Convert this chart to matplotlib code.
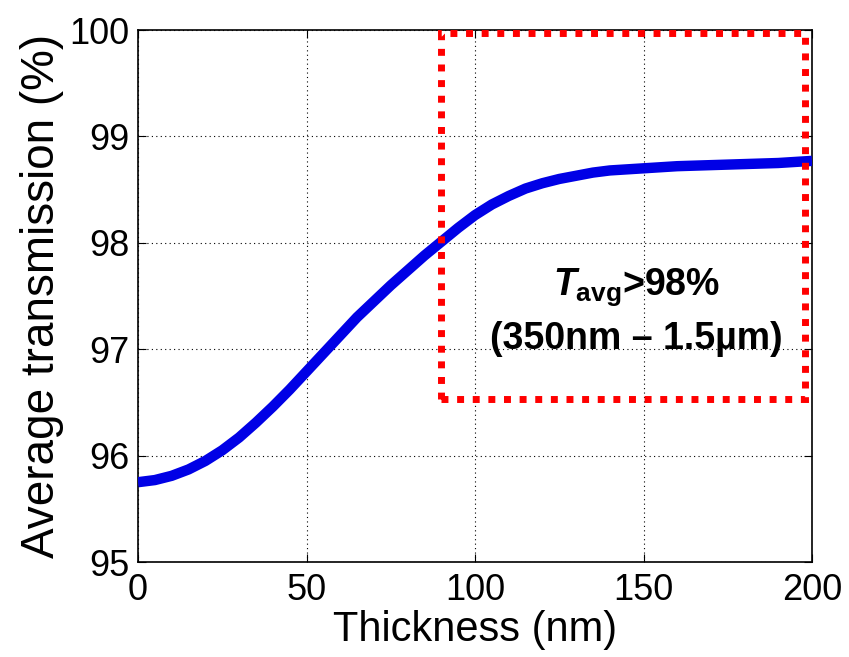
import numpy as np
import matplotlib.pyplot as plt
from matplotlib.patches import Rectangle

thickness = [0, 5, 10, 15, 20, 25, 30, 35, 40, 45, 50, 55, 60, 65, 70, 75, 80, 85, 90, 95,
             100, 105, 110, 115, 120, 125, 130, 135, 140, 145, 150, 160, 170, 180, 190, 200]
transmission = [95.75, 95.77, 95.81, 95.87, 95.95, 96.05, 96.17, 96.31, 96.46, 96.62,
                96.79, 96.96, 97.13, 97.30, 97.45, 97.60, 97.74, 97.88, 98.01, 98.14,
                98.26, 98.36, 98.44, 98.51, 98.56, 98.60, 98.63, 98.66, 98.68, 98.69,
                98.70, 98.72, 98.73, 98.74, 98.75, 98.77]
box_x = [90, 198]
box_y = [96.53, 99.97]

plt.rcParams['font.family'] = ['Liberation Sans', 'DejaVu Sans']
plt.rcParams['mathtext.fontset'] = 'custom'
plt.rcParams['mathtext.it'] = 'Liberation Sans:italic:bold'
plt.rcParams['mathtext.bf'] = 'Liberation Sans:bold'
plt.rcParams['mathtext.rm'] = 'Liberation Sans:bold'

fig = plt.figure(figsize=(8.49, 6.57), dpi=100)
ax = fig.add_axes([138 / 849, 1 - 562 / 657, 674 / 849, 532 / 657])

ax.plot(thickness, transmission, color='#0000e6', lw=7.5, solid_capstyle='butt',
        solid_joinstyle='round', zorder=3)

rect = Rectangle((box_x[0], box_y[0]), box_x[1] - box_x[0], box_y[1] - box_y[0],
                 fill=False, edgecolor='#ff0000', lw=5, linestyle=(0, (1, 1.25)),
                 capstyle='butt', zorder=4, clip_on=False)
ax.add_patch(rect)

ax.text(148, 97.58, r'$\mathit{T}_{\mathbf{avg}}$>98%', ha='center', va='center',
        fontsize=27, fontweight='bold')
ax.text(148, 97.1, '(350nm \u2013 1.5\u00b5m)', ha='center', va='center',
        fontsize=27, fontweight='bold')

ax.set_xlim(0, 200)
ax.set_ylim(95, 100)
ax.set_xticks([0, 50, 100, 150, 200])
ax.set_yticks([95, 96, 97, 98, 99, 100])
ax.grid(True, color='black', linestyle=(0, (1, 3)), lw=0.8)
ax.tick_params(direction='in', top=True, right=True, length=6, labelsize=26)
ax.tick_params(axis='x', pad=8)
ax.tick_params(axis='y', pad=6)
for s in ax.spines.values():
    s.set_linewidth(1.2)

ax.set_xlabel('Thickness (nm)', fontsize=30, labelpad=1)
ax.set_ylabel('Average transmission (%)', fontsize=33, labelpad=4)

fig.savefig('out.png', dpi=100)
